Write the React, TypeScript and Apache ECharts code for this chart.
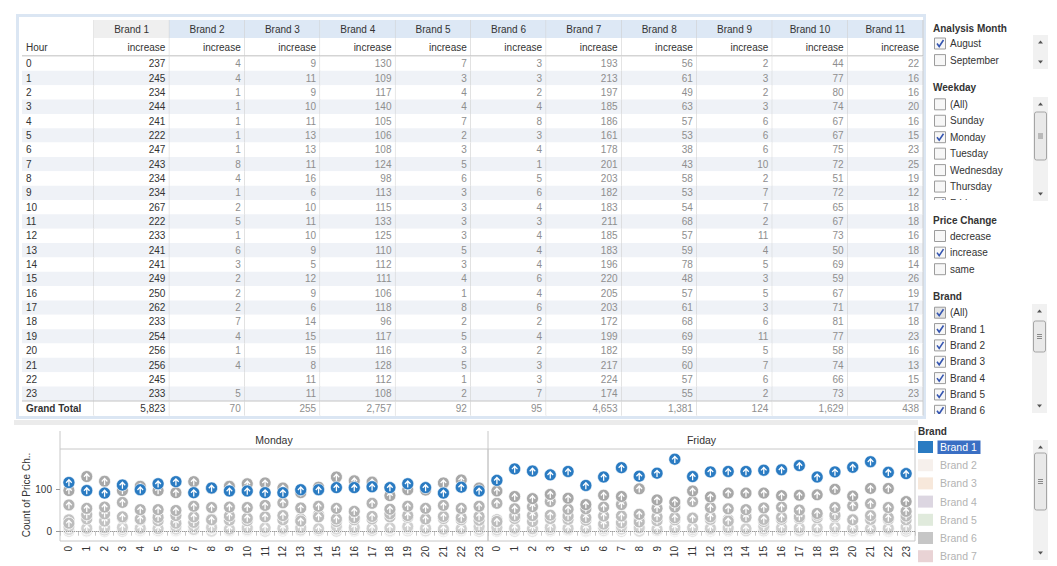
import React, { useEffect, useRef } from 'react';
import * as echarts from 'echarts';

// ---------------- DATA ----------------
const HOURS = ['0', '1', '2', '3', '4', '5', '6', '7', '8', '9', '10', '11', '12', '13', '14', '15', '16', '17', '18', '19', '20', '21', '22', '23'];
const BRANDS = ['Brand 1', 'Brand 2', 'Brand 3', 'Brand 4', 'Brand 5', 'Brand 6', 'Brand 7', 'Brand 8', 'Brand 9', 'Brand 10', 'Brand 11'];
const MEASURE = 'increase';
const ROW_HEADER = 'Hour';
const GRAND_TOTAL_LABEL = 'Grand Total';

// table values (Monday + Friday, August, increase)
const T_B1 = [237, 245, 234, 244, 241, 222, 247, 243, 234, 234, 267, 222, 233, 241, 241, 249, 250, 262, 233, 254, 256, 256, 245, 233];
const T_B2 = [4, 4, 1, 1, 1, 1, 1, 8, 4, 1, 2, 5, 1, 6, 3, 2, 2, 2, 7, 4, 1, 4, null, 5];
const T_B3 = [9, 11, 9, 10, 11, 13, 13, 11, 16, 6, 10, 11, 10, 9, 5, 12, 9, 6, 14, 15, 15, 8, 11, 11];
const T_B4 = [130, 109, 117, 140, 105, 106, 108, 124, 98, 113, 115, 133, 125, 110, 112, 111, 106, 118, 96, 117, 116, 128, 112, 108];
const T_B5 = [7, 3, 4, 4, 7, 2, 3, 5, 6, 3, 3, 3, 3, 5, 3, 4, 1, 8, 2, 5, 3, 5, 1, 2];
const T_B6 = [3, 3, 2, 4, 8, 3, 4, 1, 5, 6, 4, 3, 4, 4, 4, 6, 4, 6, 2, 4, 2, 3, 3, 7];
const T_B7 = [193, 213, 197, 185, 186, 161, 178, 201, 203, 182, 183, 211, 185, 183, 196, 220, 205, 203, 172, 199, 182, 217, 224, 174];
const T_B8 = [56, 61, 49, 63, 57, 53, 38, 43, 58, 53, 54, 68, 57, 59, 78, 48, 57, 61, 68, 69, 59, 60, 57, 55];
const T_B9 = [2, 3, 2, 3, 6, 6, 6, 10, 2, 7, 7, 2, 11, 4, 5, 3, 5, 3, 6, 11, 5, 7, 6, 2];
const T_B10 = [44, 77, 80, 74, 67, 67, 75, 72, 51, 72, 65, 67, 73, 50, 69, 59, 67, 71, 81, 77, 58, 74, 66, 73];
const T_B11 = [22, 16, 16, 20, 16, 15, 23, 25, 19, 12, 18, 18, 16, 18, 14, 26, 19, 17, 18, 23, 16, 13, 15, 23];
const TABLE = [T_B1, T_B2, T_B3, T_B4, T_B5, T_B6, T_B7, T_B8, T_B9, T_B10, T_B11];
const TOTALS = [5823, 70, 255, 2757, 92, 95, 4653, 1381, 124, 1629, 438];

// chart values per weekday
const DAYS = ['Monday', 'Friday'];
const MON_B1 = [116, 97, 91, 110, 99, 113, 118, 92, 103, 96, 96, 92, 92, 99, 99, 104, 104, 106, 104, 113, 104, 91, 105, 96];
const FRI_B1 = [121, 148, 143, 134, 142, 109, 129, 151, 131, 138, 171, 130, 141, 142, 142, 145, 146, 156, 129, 141, 152, 165, 140, 137];
const MON_B7 = [97, 130, 119, 97, 107, 97, 92, 118, 102, 107, 113, 115, 103, 92, 105, 129, 120, 117, 85, 99, 98, 115, 122, 103];
const FRI_B7 = [96, 83, 78, 88, 79, 64, 86, 83, 101, 75, 70, 96, 82, 91, 91, 91, 85, 86, 87, 100, 84, 102, 102, 71];
const MON_B4 = [63, 55, 58, 69, 52, 52, 50, 60, 57, 58, 57, 62, 68, 56, 60, 55, 48, 67, 53, 60, 55, 62, 55, 60];
const FRI_B4 = [67, 54, 59, 71, 53, 54, 58, 64, 41, 55, 58, 71, 57, 54, 52, 56, 58, 51, 43, 57, 61, 66, 57, 48];
const MON_B10 = [20, 40, 42, 35, 30, 34, 38, 35, 28, 37, 32, 35, 38, 25, 35, 30, 33, 36, 42, 38, 30, 36, 33, 36];
const FRI_B10 = [24, 37, 38, 39, 37, 33, 37, 37, 23, 35, 33, 32, 35, 25, 34, 29, 34, 35, 39, 39, 28, 38, 33, 37];
const MON_B8 = [28, 30, 25, 32, 28, 26, 20, 22, 30, 27, 26, 35, 28, 30, 40, 24, 28, 30, 35, 34, 30, 31, 28, 27];
const FRI_B8 = [28, 31, 24, 31, 29, 27, 18, 21, 28, 26, 28, 33, 29, 29, 38, 24, 29, 31, 33, 35, 29, 29, 29, 28];
const MON_B11 = [12, 8, 9, 10, 8, 7, 12, 13, 10, 6, 9, 9, 8, 9, 7, 13, 10, 8, 9, 12, 8, 6, 7, 12];
const FRI_B11 = [10, 8, 7, 10, 8, 8, 11, 12, 9, 6, 9, 9, 8, 9, 7, 13, 9, 9, 9, 11, 8, 7, 8, 11];
const MON_B2 = [2, 3, 1, 0, 1, 0, 1, 4, 2, 0, 1, 3, 0, 3, 1, 1, 1, 1, 4, 2, 0, 2, 0, 3];
const FRI_B2 = [2, 1, 0, 1, 0, 1, 0, 4, 2, 1, 1, 2, 1, 3, 2, 1, 1, 1, 3, 2, 1, 2, 0, 2];
const MON_B3 = [5, 6, 4, 5, 6, 7, 6, 5, 8, 3, 5, 6, 5, 4, 3, 6, 5, 3, 7, 8, 7, 4, 6, 5];
const FRI_B3 = [4, 5, 5, 5, 5, 6, 7, 6, 8, 3, 5, 5, 5, 5, 2, 6, 4, 3, 7, 7, 8, 4, 5, 6];
const MON_B5 = [4, 1, 2, 2, 3, 1, 2, 3, 3, 1, 2, 1, 2, 3, 1, 2, 0, 4, 1, 3, 1, 3, 1, 1];
const FRI_B5 = [3, 2, 2, 2, 4, 1, 1, 2, 3, 2, 1, 2, 1, 2, 2, 2, 1, 4, 1, 2, 2, 2, 0, 1];
const MON_B6 = [2, 1, 1, 2, 4, 2, 2, 0, 3, 3, 2, 1, 2, 2, 2, 3, 2, 3, 1, 2, 1, 1, 2, 4];
const FRI_B6 = [1, 2, 1, 2, 4, 1, 2, 1, 2, 3, 2, 2, 2, 2, 2, 3, 2, 3, 1, 2, 1, 2, 1, 3];
const MON_B9 = [1, 2, 1, 1, 3, 3, 3, 5, 1, 4, 3, 1, 6, 2, 3, 1, 2, 2, 3, 6, 2, 4, 3, 1];
const FRI_B9 = [1, 1, 1, 2, 3, 3, 3, 5, 1, 3, 4, 1, 5, 2, 2, 2, 3, 1, 3, 5, 3, 3, 3, 1];

const Y_TICKS = [0, 100];
const Y_NAME = 'Count of Price Ch..';

// filters
const MONTH_TITLE = 'Analysis Month';
const MONTHS = ['August', 'September'];
const MONTHS_ON = [true, false];
const WEEKDAY_TITLE = 'Weekday';
const WEEKDAYS = ['(All)', 'Sunday', 'Monday', 'Tuesday', 'Wednesday', 'Thursday', 'Friday'];
const WEEKDAYS_ON = [false, false, true, false, false, false, true];
const PRICE_TITLE = 'Price Change';
const PRICE_CHANGES = ['decrease', 'increase', 'same'];
const PRICE_ON = [false, true, false];
const BRAND_TITLE = 'Brand';
const BRAND_FILTER = ['(All)', 'Brand 1', 'Brand 2', 'Brand 3', 'Brand 4', 'Brand 5', 'Brand 6'];
const BRAND_ON = [true, true, true, true, true, true, true];
const LEGEND_BRANDS = ['Brand 1', 'Brand 2', 'Brand 3', 'Brand 4', 'Brand 5', 'Brand 6', 'Brand 7'];
const LEGEND_COLORS = ['#2a7bc2', '#f6f0ec', '#f7e8db', '#dcd6e1', '#e0eadc', '#c6c6c6', '#e9d3d5'];

// ---------------- STYLE ----------------
const FONT = '"Liberation Sans", Arial, Helvetica, sans-serif';
const BLUE = '#2a7bc2';
const DARK = '#333333';
const GRAYTXT = '#8e8e8e';
const VLINE = '#cdcdcd';
const STRIPE = '#eff2f7';
const ARROW = 'path://M5,0 L9.6,4.6 L8.3,5.9 L5.9,3.5 L5.9,10 L4.1,10 L4.1,3.5 L1.7,5.9 L0.4,4.6 Z';

type Cell = {
  col: number; row: number; text: string; align: 'left' | 'right' | 'center';
  color: string; bg?: string; bold?: boolean; right?: string; bottom?: string; top?: string;
};

function tableSeries(idx: number, cells: Cell[]) {
  return {
    type: 'custom',
    xAxisIndex: idx,
    yAxisIndex: idx,
    silent: true,
    data: cells.map((c) => [c.col, c.row]),
    renderItem: (params: any, api: any) => {
      const c = cells[params.dataIndex];
      const p = api.coord([api.value(0), api.value(1)]);
      const s = api.size([1, 1]);
      const w = s[0], h = s[1];
      const x0 = p[0] - w / 2, y0 = p[1] - h / 2;
      const ch: any[] = [];
      if (c.bg) ch.push({ type: 'rect', shape: { x: x0, y: y0, width: w, height: h }, style: { fill: c.bg } });
      if (c.right) ch.push({ type: 'line', shape: { x1: x0 + w, y1: y0, x2: x0 + w, y2: y0 + h }, style: { stroke: c.right, lineWidth: 1 } });
      if (c.bottom) ch.push({ type: 'line', shape: { x1: x0, y1: y0 + h, x2: x0 + w, y2: y0 + h }, style: { stroke: c.bottom, lineWidth: 1 } });
      if (c.top) ch.push({ type: 'line', shape: { x1: x0, y1: y0, x2: x0 + w, y2: y0 }, style: { stroke: c.top, lineWidth: 1 } });
      const tx = c.align === 'right' ? x0 + w - 4 : c.align === 'center' ? x0 + w / 2 : x0 + 4;
      ch.push({
        type: 'text',
        style: { text: c.text, x: tx, y: p[1], align: c.align, verticalAlign: 'middle', fill: c.color, font: `${c.bold ? 'bold ' : ''}10px ${FONT}` },
      });
      return { type: 'group', children: ch };
    },
  };
}

function buildOption() {
  // ----- table grids -----
  const HOUR_L = 22, HOUR_W = 72, BR_L = 94, BR_W = 829;
  const HEAD_T = 20, HEAD_H = 36, BODY_T = 56.5, BODY_H = 344.4, TOT_T = 401, TOT_H = 14.5;
  const tGrids = [
    { left: HOUR_L, top: HEAD_T, width: HOUR_W, height: HEAD_H },
    { left: BR_L, top: HEAD_T, width: BR_W, height: HEAD_H },
    { left: HOUR_L, top: BODY_T, width: HOUR_W, height: BODY_H },
    { left: BR_L, top: BODY_T, width: BR_W, height: BODY_H },
    { left: HOUR_L, top: TOT_T, width: HOUR_W, height: TOT_H },
    { left: BR_L, top: TOT_T, width: BR_W, height: TOT_H },
  ];
  const xCats = [[ROW_HEADER], BRANDS, [ROW_HEADER], BRANDS, [ROW_HEADER], BRANDS];
  const yCats = [['h1', 'h2'], ['h1', 'h2'], HOURS, HOURS, [GRAND_TOTAL_LABEL], [GRAND_TOTAL_LABEL]];

  const headHour: Cell[] = [
    { col: 0, row: 0, text: '', align: 'left', color: DARK, bg: '#ffffff', right: VLINE },
    { col: 0, row: 1, text: ROW_HEADER, align: 'left', color: DARK, bg: '#ffffff', right: VLINE, bottom: '#a9a9a9' },
  ];
  const headBrands: Cell[] = [];
  BRANDS.forEach((b, k) => {
    headBrands.push({ col: k, row: 0, text: b, align: 'center', color: DARK, bg: k === 0 ? '#efefef' : '#dde8f5', right: VLINE });
    headBrands.push({ col: k, row: 1, text: MEASURE, align: 'right', color: DARK, bg: '#ffffff', right: VLINE, bottom: '#a9a9a9' });
  });
  const bodyHour: Cell[] = HOURS.map((h, i) => ({ col: 0, row: i, text: h, align: 'left', color: DARK, bg: i % 2 ? STRIPE : '#ffffff', right: VLINE }));
  const bodyBrands: Cell[] = [];
  TABLE.forEach((arr, k) => {
    arr.forEach((v, i) => {
      bodyBrands.push({ col: k, row: i, text: v == null ? '' : String(v), align: 'right', color: k === 0 ? DARK : GRAYTXT, bg: i % 2 ? STRIPE : '#ffffff', right: VLINE });
    });
  });
  const totHour: Cell[] = [{ col: 0, row: 0, text: GRAND_TOTAL_LABEL, align: 'left', color: DARK, bold: true, bg: '#ffffff', right: VLINE, top: '#c4c4c4' }];
  const totBrands: Cell[] = TOTALS.map((v, k) => ({ col: k, row: 0, text: v.toLocaleString('en-US'), align: 'right', color: k === 0 ? DARK : GRAYTXT, bg: '#ffffff', right: VLINE, top: '#c4c4c4' }));
  const tableCells = [headHour, headBrands, bodyHour, bodyBrands, totHour, totBrands];

  // ----- scatter grids -----
  const SC_T = 449, SC_H = 92, MON_L = 60, MON_W = 428, FRI_L = 488, FRI_W = 427;
  const grids: any[] = tGrids.map((g) => ({ ...g, show: false, outerBoundsMode: 'none' }));
  grids.push({ left: MON_L, top: SC_T, width: MON_W, height: SC_H, show: true, borderColor: '#c8c8c8', borderWidth: 1, outerBoundsMode: 'none' });
  grids.push({ left: FRI_L, top: SC_T, width: FRI_W, height: SC_H, show: true, borderColor: '#c8c8c8', borderWidth: 1, outerBoundsMode: 'none' });

  const xAxis: any[] = xCats.map((d, i) => ({ type: 'category', data: d, gridIndex: i, show: false }));
  const yAxis: any[] = yCats.map((d, i) => ({ type: 'category', data: d, gridIndex: i, show: false, inverse: true }));
  [6, 7].forEach((gi) => {
    xAxis.push({
      type: 'category', data: HOURS, gridIndex: gi, boundaryGap: true,
      axisLine: { show: true, lineStyle: { color: '#c8c8c8' } },
      axisTick: { show: true, length: 4, lineStyle: { color: '#c8c8c8' } },
      axisLabel: { interval: 0, rotate: 90, fontSize: 10, fontFamily: FONT, color: DARK, margin: 5 },
      splitLine: { show: false },
    });
    yAxis.push({
      type: 'value', gridIndex: gi, min: -22, max: 195,
      name: gi === 6 ? Y_NAME : '', nameLocation: 'middle', nameGap: 27, nameRotate: 90,
      nameTextStyle: { fontSize: 10, fontFamily: FONT, color: DARK },
      axisLine: { show: false },
      axisTick: { show: gi === 6, length: 4, customValues: Y_TICKS, lineStyle: { color: '#999' } },
      axisLabel: { show: gi === 6, customValues: Y_TICKS, fontSize: 10, fontFamily: FONT, color: DARK, margin: 8 },
      splitLine: { show: false },
    });
  });

  const series: any[] = tableCells.map((cells, i) => tableSeries(i, cells));

  const CHART_SERIES = [
    { name: 'Brand 2', mon: MON_B2, fri: FRI_B2, color: '#e2e2e2' },
    { name: 'Brand 5', mon: MON_B5, fri: FRI_B5, color: '#e0e0e0' },
    { name: 'Brand 6', mon: MON_B6, fri: FRI_B6, color: '#dddddd' },
    { name: 'Brand 9', mon: MON_B9, fri: FRI_B9, color: '#dedede' },
    { name: 'Brand 3', mon: MON_B3, fri: FRI_B3, color: '#dadada' },
    { name: 'Brand 11', mon: MON_B11, fri: FRI_B11, color: '#cfcfcf' },
    { name: 'Brand 8', mon: MON_B8, fri: FRI_B8, color: '#c2c2c2' },
    { name: 'Brand 10', mon: MON_B10, fri: FRI_B10, color: '#bcbcbc' },
    { name: 'Brand 4', mon: MON_B4, fri: FRI_B4, color: '#b3b3b3' },
    { name: 'Brand 7', mon: MON_B7, fri: FRI_B7, color: '#a8a8a8' },
    { name: 'Brand 1', mon: MON_B1, fri: FRI_B1, color: BLUE },
  ];
  CHART_SERIES.forEach((s) => {
    [s.mon, s.fri].forEach((vals, d) => {
      const isMain = s.name === 'Brand 1';
      const pts = vals.map((v, i) => [i, v]).filter((p) => p[1] > 0);
      const z = isMain ? 5 : 3;
      series.push({
        type: 'scatter', name: s.name + ' ' + DAYS[d],
        xAxisIndex: 6 + d, yAxisIndex: 6 + d,
        data: pts,
        symbol: 'circle', symbolSize: 12,
        itemStyle: { color: s.color, opacity: 1, borderColor: '#ffffff', borderWidth: isMain ? 0.6 : 0.8 },
        z, silent: true,
        markLine: isMain ? {
          silent: true, symbol: 'none', label: { show: false },
          lineStyle: { type: 'dotted', color: '#9a9a9a', width: 1 },
          data: [{ yAxis: 0 }],
        } : undefined,
      });
      series.push({
        type: 'scatter', name: s.name + ' ' + DAYS[d] + ' arrow',
        xAxisIndex: 6 + d, yAxisIndex: 6 + d,
        data: pts,
        symbol: ARROW, symbolSize: [6.5, 7.5],
        itemStyle: { color: '#ffffff', opacity: 1 },
        z, silent: true,
      });
    });
  });

  // ----- graphics -----
  const g: any[] = [];
  const txt = (x: number, y: number, text: string, o: any = {}) =>
    g.push({ type: 'text', x, y, silent: true, style: { text, fill: o.fill || DARK, font: `${o.bold ? 'bold ' : ''}${o.size || 10}px ${FONT}`, align: o.align || 'left', verticalAlign: 'middle' } });
  const rect = (x: number, y: number, w: number, h: number, style: any, r = 0) =>
    g.push({ type: 'rect', silent: true, shape: { x, y, width: w, height: h, r }, style });
  const line = (x1: number, y1: number, x2: number, y2: number, stroke: string, lw = 1) =>
    g.push({ type: 'line', silent: true, shape: { x1, y1, x2, y2 }, style: { stroke, lineWidth: lw } });
  const checkbox = (x: number, y: number, on: boolean, allStyle = false) => {
    rect(x + 0.5, y - 5.5, 11, 11, { fill: allStyle ? '#e4e4e4' : '#f7f7f7', stroke: '#9c9c9c', lineWidth: 1 });
    if (on) g.push({ type: 'polyline', silent: true, shape: { points: [[x + 3, y], [x + 5.2, y + 3], [x + 9.5, y - 3.5]] }, style: { stroke: '#3555b0', lineWidth: 1.6, fill: null } });
  };
  const tri = (cx: number, cy: number, up: boolean) =>
    g.push({ type: 'polygon', silent: true, shape: { points: up ? [[cx - 2.5, cy + 1.5], [cx + 2.5, cy + 1.5], [cx, cy - 1.5]] : [[cx - 2.5, cy - 1.5], [cx + 2.5, cy - 1.5], [cx, cy + 1.5]] }, style: { fill: '#555' } });
  const scroll = (x: number, y1: number, y2: number, thumb?: [number, number]) => {
    rect(x, y1, 15, y2 - y1, { fill: '#f1f1f1' });
    tri(x + 7.5, y1 + 7, true);
    tri(x + 7.5, y2 - 7, false);
    if (thumb) {
      rect(x + 1.5, thumb[0], 12, thumb[1] - thumb[0], { fill: '#e9e9e9', stroke: '#a5a5a5', lineWidth: 1 }, 2);
      const m = (thumb[0] + thumb[1]) / 2;
      [-2, 0, 2].forEach((d) => line(x + 5, m + d, x + 10, m + d, '#8a8a8a'));
    }
  };

  // table frame and separator band
  rect(17.5, 15.5, 907, 402, { fill: null, stroke: '#dbe6f3', lineWidth: 3 });
  rect(14, 420, 904, 5, { fill: '#ebebeb' });

  // facet headers
  [MON_L, FRI_L, FRI_L + FRI_W].forEach((x) => line(x, 431, x, SC_T, '#c8c8c8'));
  txt(MON_L + MON_W / 2, 440, DAYS[0], { align: 'center', size: 10.5 });
  txt(FRI_L + FRI_W / 2, 440, DAYS[1], { align: 'center', size: 10.5 });

  // filter panel
  const FX = 934, TX = 950;
  txt(FX - 1, 28, MONTH_TITLE, { bold: true });
  scroll(1033, 35, 69);
  MONTHS.forEach((m, i) => { const y = 43.5 + i * 16.6; checkbox(FX, y, MONTHS_ON[i]); txt(TX, y, m); });

  txt(FX - 1, 87, WEEKDAY_TITLE, { bold: true });
  WEEKDAYS.forEach((m, i) => { const y = 104.3 + i * 16.45; checkbox(FX, y, WEEKDAYS_ON[i]); txt(TX, y, m); });
  rect(928, 200, 104, 12, { fill: '#ffffff' });
  scroll(1033, 97, 201, [112, 160]);

  txt(FX - 1, 220, PRICE_TITLE, { bold: true });
  PRICE_CHANGES.forEach((m, i) => { const y = 236 + i * 16.6; checkbox(FX, y, PRICE_ON[i]); txt(TX, y, m); });

  txt(FX - 1, 296, BRAND_TITLE, { bold: true });
  BRAND_FILTER.forEach((m, i) => { const y = 312.7 + i * 16.35; checkbox(FX, y, BRAND_ON[i], i === 0); txt(TX, y, m); });
  rect(928, 414, 104, 3, { fill: '#ffffff' });
  scroll(1032, 304, 413, [321, 352]);

  // color legend
  txt(918, 431.5, BRAND_TITLE, { bold: true });
  LEGEND_BRANDS.forEach((b, i) => {
    const y = 447 + i * 18.2;
    rect(918, y - 6, 15, 12, { fill: LEGEND_COLORS[i] });
    if (i === 0) {
      rect(937.5, y - 6.5, 43, 13.5, { fill: '#3a6fc4' });
      txt(940, y, b, { fill: '#ffffff', size: 10.5 });
    } else {
      txt(940, y, b, { fill: '#b3b3b3', size: 10.5 });
    }
  });
  scroll(1033, 440, 560, [453, 510]);

  return {
    animation: false,
    backgroundColor: '#ffffff',
    textStyle: { fontFamily: FONT },
    grid: grids,
    xAxis,
    yAxis,
    series,
    graphic: g,
  };
}

export default function App() {
  const ref = useRef<HTMLDivElement>(null);
  useEffect(() => {
    if (!ref.current) return;
    const chart = echarts.init(ref.current, undefined, { renderer: 'svg' });
    chart.setOption(buildOption() as any);
    return () => chart.dispose();
  }, []);
  return <div ref={ref} style={{ position: 'fixed', left: 0, top: 0, width: 1057, height: 566, background: '#fff' }} />;
}
